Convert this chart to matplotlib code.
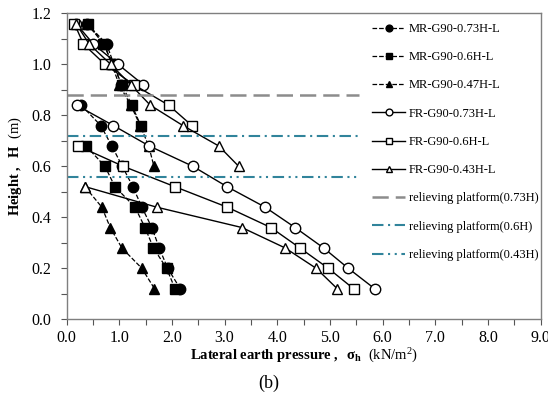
import numpy as np
import matplotlib
matplotlib.use("Agg")
import matplotlib.pyplot as plt

plt.rcParams["font.family"] = ["Liberation Serif", "DejaVu Serif"]
plt.rcParams["mathtext.fontset"] = "custom"
plt.rcParams["mathtext.rm"] = "Liberation Serif"
plt.rcParams["mathtext.it"] = "Liberation Serif:italic"
plt.rcParams["mathtext.bf"] = "Liberation Serif:bold"

nan = np.nan

# heights (m); nan marks the break at the relieving platform
mr73_h = [1.16, 1.08, 1.00, 0.92, nan, 0.84, 0.76, 0.68, 0.60, 0.52, 0.44, 0.36, 0.28, 0.20, 0.12]
mr73_p = [0.39, 0.76, 0.90, 1.04, nan, 0.28, 0.65, 0.86, 1.06, 1.26, 1.43, 1.62, 1.76, 1.92, 2.16]

mr60_h = [1.16, 1.08, 1.00, 0.92, 0.84, 0.76, nan, 0.68, 0.60, 0.52, 0.44, 0.36, 0.28, 0.20, 0.12]
mr60_p = [0.40, 0.70, 0.88, 1.05, 1.24, 1.41, nan, 0.37, 0.73, 0.92, 1.30, 1.49, 1.65, 1.90, 2.06]

mr47_h = [1.16, 1.08, 1.00, 0.92, 0.84, 0.76, 0.68, 0.60, nan, 0.52, 0.44, 0.36, 0.28, 0.20, 0.12]
mr47_p = [0.38, 0.72, 0.86, 1.00, 1.22, 1.40, 1.56, 1.66, nan, 0.35, 0.67, 0.83, 1.05, 1.43, 1.67]

fr73_h = [1.16, 1.08, 1.00, 0.92, nan, 0.84, 0.76, 0.68, 0.60, 0.52, 0.44, 0.36, 0.28, 0.20, 0.12]
fr73_p = [0.18, 0.51, 0.98, 1.46, nan, 0.19, 0.89, 1.57, 2.40, 3.05, 3.77, 4.34, 4.88, 5.35, 5.85]

fr60_h = [1.16, 1.08, 1.00, 0.92, 0.84, 0.76, nan, 0.68, 0.60, 0.52, 0.44, 0.36, 0.28, 0.20, 0.12]
fr60_p = [0.15, 0.32, 0.73, 1.28, 1.94, 2.38, nan, 0.22, 1.08, 2.06, 3.05, 3.88, 4.43, 4.97, 5.45]

fr43_h = [1.16, 1.08, 1.00, 0.92, 0.84, 0.76, 0.68, 0.60, nan, 0.52, 0.44, 0.36, 0.28, 0.20, 0.12]
fr43_p = [0.18, 0.43, 0.84, 1.22, 1.59, 2.21, 2.89, 3.27, nan, 0.36, 1.71, 3.33, 4.15, 4.74, 5.14]

platform_h = [0.88, 0.72, 0.56]
platform_end = 5.55

fig = plt.figure(figsize=(5.48, 4.03), dpi=100)
ax = fig.add_axes([0.1214, 0.2077, 0.865, 0.759])

ms = 7.5
ax.plot(mr73_p, mr73_h, "k--", lw=0.9, marker="o", ms=ms, mfc="k", label="MR-G90-0.73H-L")
ax.plot(mr60_p, mr60_h, "k--", lw=0.9, marker="s", ms=ms, mfc="k", label="MR-G90-0.6H-L")
ax.plot(mr47_p, mr47_h, "k--", lw=0.9, marker="^", ms=ms, mfc="k", label="MR-G90-0.47H-L")
ax.plot(fr73_p, fr73_h, "k-", lw=1.0, marker="o", ms=ms, mfc="white", mew=1.0, label="FR-G90-0.73H-L")
ax.plot(fr60_p, fr60_h, "k-", lw=1.0, marker="s", ms=ms, mfc="white", mew=1.0, label="FR-G90-0.6H-L")
ax.plot(fr43_p, fr43_h, "k-", lw=1.0, marker="^", ms=ms, mfc="white", mew=1.0, label="FR-G90-0.43H-L")

ax.plot([0, platform_end], [platform_h[0]] * 2, color="#8c8c8c", lw=1.8,
        dashes=(6.5, 2.8), label="relieving platform(0.73H)")
ax.plot([0, platform_end], [platform_h[1]] * 2, color="#31849b", lw=1.5,
        dashes=(5.5, 2.2, 1.0, 2.2), label="relieving platform(0.6H)")
ax.plot([0, platform_end], [platform_h[2]] * 2, color="#31849b", lw=1.5,
        dashes=(5.5, 2.2, 1.0, 2.2, 1.0, 2.2), label="relieving platform(0.43H)")

ax.set_xlim(0, 9)
ax.set_ylim(0, 1.2)
ax.set_xticks(np.arange(0, 9.01, 1.0))
ax.set_xticks(np.arange(0.5, 9, 1.0), minor=True)
ax.set_yticks(np.arange(0, 1.21, 0.2))
ax.set_yticks(np.arange(0.1, 1.2, 0.2), minor=True)
ax.set_xticklabels(["%.1f" % v for v in np.arange(0, 9.01, 1.0)])
ax.set_yticklabels(["%.1f" % v for v in np.arange(0, 1.21, 0.2)])
ax.tick_params(which="both", direction="out", length=4, width=0.8, color="#555555",
               labelsize=11.5)
ax.tick_params(axis="y", pad=7)
for s in ax.spines.values():
    s.set_color("#7f7f7f")
    s.set_linewidth(1.0)

ax.set_xlabel(r"$\mathbf{Lateral\ earth\ pressure\ ,\ \ \sigma_h}$  (kN/m$^2$)", fontsize=10.5, labelpad=1)
ax.set_ylabel(r"$\mathbf{Height\ ,\ \ H}$  (m)", fontsize=10.5, labelpad=5)

ax.legend(loc="upper left", bbox_to_anchor=(0.679, 0.943), bbox_transform=fig.transFigure,
          frameon=False, fontsize=9, markerscale=0.65, handlelength=2.64,
          labelspacing=1.3, handletextpad=0.3, borderpad=0, borderaxespad=0)

fig.text(0.49, 0.05, "(b)", ha="center", va="center", fontsize=13)

fig.savefig("out.png", dpi=100)
